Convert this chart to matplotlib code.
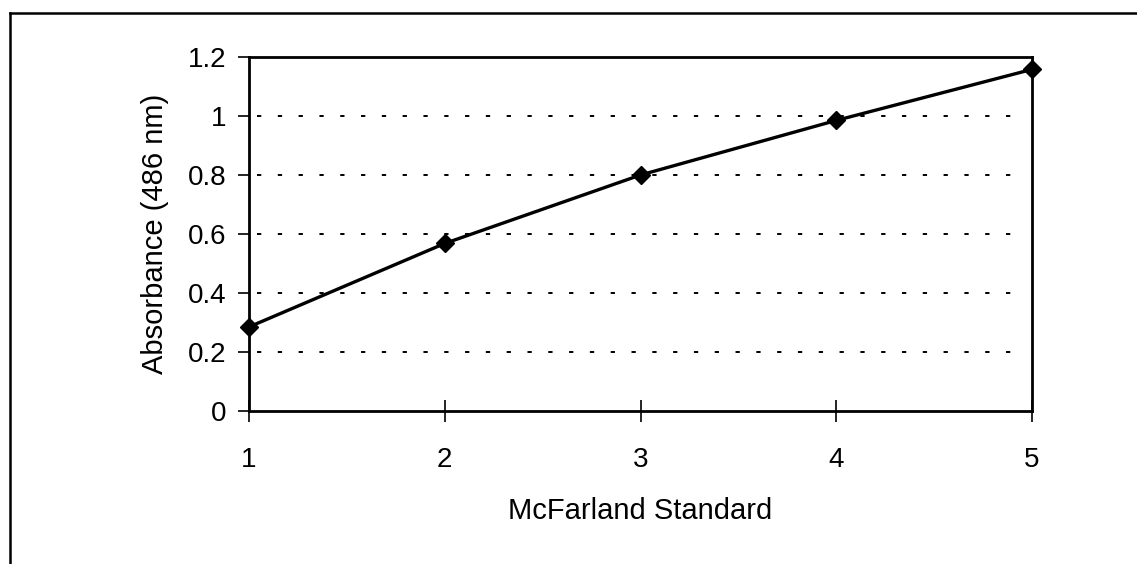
import matplotlib
matplotlib.use("Agg")
import matplotlib.pyplot as plt
from matplotlib.lines import Line2D

plt.rcParams['font.family'] = ['Liberation Sans', 'DejaVu Sans']

# McFarland standard vs absorbance at 486 nm
standards = [1, 2, 3, 4, 5]
absorbance = [0.285, 0.568, 0.80, 0.985, 1.158]
y_ticks = [0, 0.2, 0.4, 0.6, 0.8, 1, 1.2]
y_tick_labels = ["0", "0.2", "0.4", "0.6", "0.8", "1", "1.2"]

W, H = 1137, 564
fig = plt.figure(figsize=(W / 100, H / 100), dpi=100)

# Axes box in pixel coordinates
left, right, top, bottom = 249, 1032, 57, 411
ax = fig.add_axes([left / W, 1 - bottom / H, (right - left) / W, (bottom - top) / H])

ax.plot(standards, absorbance, color='black', linewidth=2.4,
        marker='D', markersize=9, markerfacecolor='black', markeredgecolor='black',
        clip_on=False, zorder=5)

ax.set_xlim(1, 5)
ax.set_ylim(0, 1.2)
ax.set_xticks(standards)
ax.set_xticklabels([str(s) for s in standards])
ax.set_yticks(y_ticks)
ax.set_yticklabels(y_tick_labels)

for yv in y_ticks[1:-1]:
    ax.axhline(yv, xmin=0.01, xmax=0.985, color='black', linewidth=1.4,
               linestyle=(0, (2.2, 8.5)), zorder=1)

for s in ax.spines.values():
    s.set_linewidth(2)
    s.set_color('black')

ax.tick_params(axis='x', direction='inout', length=16, width=1.2,
               labelsize=20, colors='black', pad=18)
ax.tick_params(axis='y', direction='out', length=8, width=1.2,
               labelsize=20, colors='black', pad=8)

ax.set_xlabel("McFarland Standard", fontsize=21, labelpad=17)
ax.set_ylabel("Absorbance (486 nm)", fontsize=21, labelpad=14)

# Outer frame: top and left edges
fig.add_artist(Line2D([10 / W, 1], [1 - 13 / H, 1 - 13 / H], transform=fig.transFigure,
                      color='black', linewidth=1.8))
fig.add_artist(Line2D([10 / W, 10 / W], [0, 1 - 13 / H], transform=fig.transFigure,
                      color='black', linewidth=1.8))

fig.savefig("out.png", dpi=100, facecolor='white')
